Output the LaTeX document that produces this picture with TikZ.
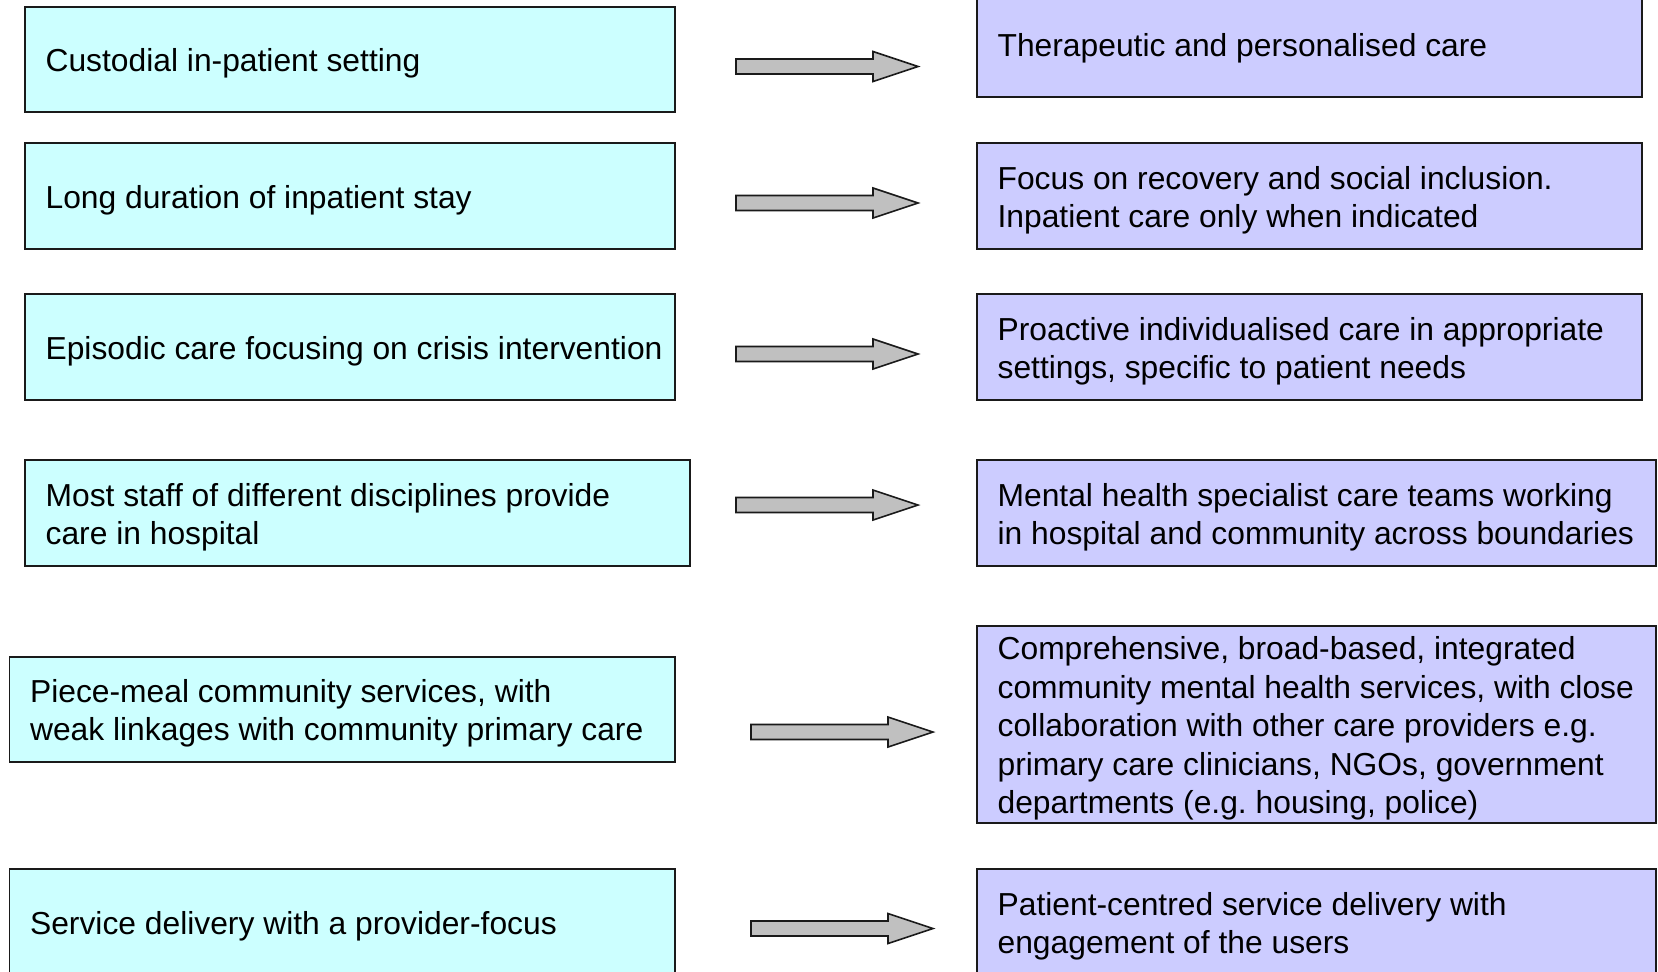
\documentclass[tikz,border=0pt]{standalone}
\usepackage{fontspec}
\setmainfont{Liberation Sans}
\frenchspacing
\usetikzlibrary{fit,calc}
\definecolor{lfill}{HTML}{CCFFFF}
\definecolor{rfill}{HTML}{CCCCFF}
\definecolor{afill}{HTML}{C0C0C0}
\definecolor{edge}{HTML}{1A1A1A}
\tikzset{
  boxbase/.style={draw=edge, line width=0.8pt, inner sep=0pt},
  lbox/.style={boxbase, fill=lfill},
  rbox/.style={boxbase, fill=rfill},
  txt/.style={anchor=west, inner sep=0pt, align=left, font=\fontsize{15.9pt}{19.2pt}\selectfont},
  arrowstyle/.style={draw=edge, line width=0.8pt, fill=afill, line join=miter},
  blockarrow/.pic={\draw[arrowstyle] (0,-7.5) -- (137,-7.5) -- (137,-15) -- (182,0) -- (137,15) -- (137,7.5) -- (0,7.5) -- cycle;}
}
\begin{document}
\begin{tikzpicture}[x=0.5pt,y=-0.5pt]
\useasboundingbox (0,0) rectangle (1658,971);
\clip (0,0) rectangle (1658,971);
% left boxes
\node[lbox, fit={(25,7) (675,112)}] (L1) {};
\node[lbox, fit={(25,143) (675,249)}] (L2) {};
\node[lbox, fit={(25,294) (675,400)}] (L3) {};
\node[lbox, fit={(25,460) (690,566)}] (L4) {};
\node[lbox, fit={(9.5,657) (675,762)}] (L5) {};
\node[lbox, fit={(9.5,869) (675,976)}] (L6) {};
% right boxes
\node[rbox, fit={(977,-8) (1642,97)}] (R1) {};
\node[rbox, fit={(977,143) (1642,249)}] (R2) {};
\node[rbox, fit={(977,294) (1642,400)}] (R3) {};
\node[rbox, fit={(977,460) (1656,566)}] (R4) {};
\node[rbox, fit={(977,626) (1656,823)}] (R5) {};
\node[rbox, fit={(977,869) (1656,976)}] (R6) {};
% left texts
\node[txt] (tL1) at ($(L1.west)+(21,4)$) {Custodial in-patient setting};
\node[txt] (tL2) at ($(L2.west)+(21,4)$) {Long duration of inpatient stay};
\node[txt] (tL3) at ($(L3.west)+(21,4)$) {Episodic care focusing on crisis intervention};
\node[txt] (tL4) at ($(L4.west)+(21,4)$) {Most staff of different disciplines provide\\care in hospital};
\node[txt] (tL5) at ($(L5.west)+(21,4)$) {Piece-meal community services, with\\weak linkages with community primary care};
\node[txt] (tL6) at ($(L6.west)+(21,4)$) {Service delivery with a provider-focus};
% right texts
\node[txt] (tR1) at ($(R1.west)+(21,4)$) {Therapeutic and personalised care};
\node[txt] (tR2) at ($(R2.west)+(21,4)$) {Focus on recovery and social inclusion.\\Inpatient care only when indicated};
\node[txt] (tR3) at ($(R3.west)+(21,4)$) {Proactive individualised care in appropriate\\settings, specific to patient needs};
\node[txt] (tR4) at ($(R4.west)+(21,4)$) {Mental health specialist care teams working\\in hospital and community across boundaries};
\node[txt] (tR5) at ($(R5.west)+(21,4)$) {Comprehensive, broad-based, integrated\\community mental health services, with close\\collaboration with other care providers e.g.\\primary care clinicians, NGOs, government\\departments (e.g. housing, police)};
\node[txt] (tR6) at ($(R6.west)+(21,4)$) {Patient-centred service delivery with\\engagement of the users};
% block arrows
\coordinate (A1) at (736,66.5);
\coordinate (A2) at (736,203);
\coordinate (A3) at (736,354);
\coordinate (A4) at (736,505);
\coordinate (A5) at (751,732);
\coordinate (A6) at (751,928.5);
\foreach \a in {A1,A2,A3,A4,A5,A6} { \pic at (\a) {blockarrow}; }
\end{tikzpicture}
\end{document}
